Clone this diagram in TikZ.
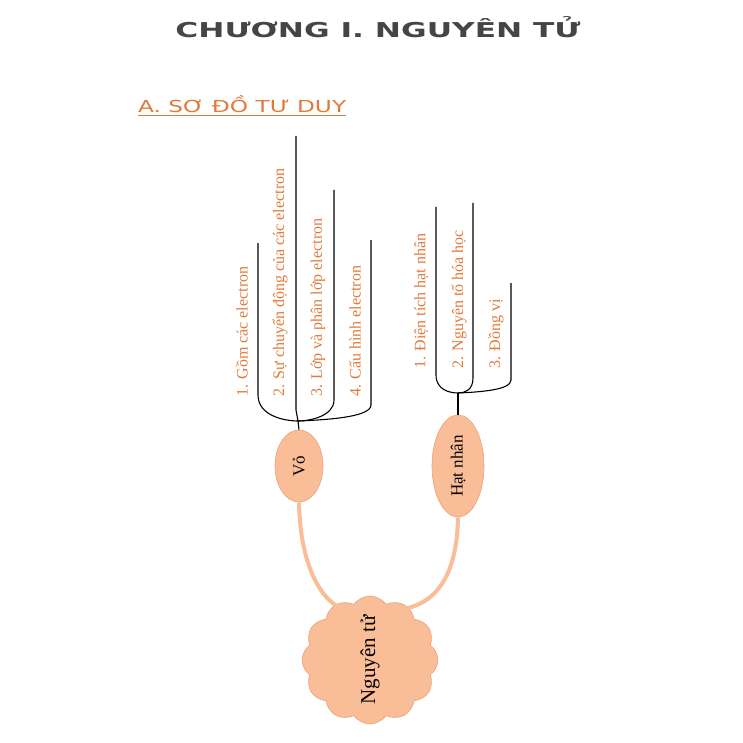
\documentclass[tikz,border=0pt]{standalone}
\usepackage{fontspec}
\setmainfont{Liberation Serif}
\newfontfamily\titlefont{DejaVu Sans}
\usetikzlibrary{shapes.symbols,shapes.geometric}
\definecolor{peach}{HTML}{F9BE98}
\definecolor{peachd}{HTML}{E9A27A}
\definecolor{txto}{HTML}{E07A3A}
\tikzset{
 br/.style={line width=1.1pt,black},
 lab/.style={rotate=90,anchor=west,text=txto,font=\fontsize{16}{16}\selectfont,inner sep=0pt},
 bub/.style={ellipse,fill=peach,draw=peachd,line width=0.6pt,inner sep=0pt},
 link/.style={line width=4pt,peach}
}
\begin{document}
\begin{tikzpicture}[x=1pt,y=-1pt]
\useasboundingbox (0,0) rectangle (743,743);
\node (title) at (378,27) {\resizebox{405pt}{21pt}{\titlefont\bfseries\color[HTML]{454545}CHƯƠNG I. NGUYÊN TỬ}};
\node[anchor=west,inner sep=0pt] (sub) at (138,106) {\resizebox{208pt}{17pt}{\titlefont\color{txto}\underline{A. SƠ ĐỒ TƯ DUY}}};
% bubbles
\node[bub,minimum width=48,minimum height=72] (vo) at (299,466) {};
\node[rotate=90,font=\fontsize{17}{17}\selectfont] at (vo) {Vỏ};
\node[bub,minimum width=52,minimum height=102] (hn) at (458,466) {};
\node[rotate=90,font=\fontsize{17}{17}\selectfont] at (hn) {Hạt nhân};
\node[cloud,cloud puffs=12,cloud puff arc=110,aspect=1,fill=peach,draw=peachd,line width=0.6pt,minimum width=136,minimum height=128] (ng) at (370,660) {};
\node[rotate=90,font=\fontsize{21}{21}\selectfont] at (ng) {Nguyên tử};
% links
\coordinate (c1) at (337,606);
\coordinate (c2) at (408,608);
\draw[link] (vo.south) .. controls (300,560) and (318,595) .. (c1);
\draw[link] (hn.south) .. controls (457,570) and (440,600) .. (c2);
% Vo branches
\coordinate (j1) at (298,421);
\coordinate (t1) at (258,243);\coordinate (t2) at (296,136);\coordinate (t3) at (334,190);\coordinate (t4) at (371,240);
\draw[br] (vo.north) -- (j1);
\draw[br] (t1) -- (258,395) .. controls (258,416) and (285,421) .. (j1);
\draw[br] (t2) -- (296,410) -- (j1);
\draw[br] (t3) -- (334,400) .. controls (334,416) and (310,421) .. (j1);
\draw[br] (t4) -- (371,405) .. controls (371,418) and (320,420) .. (j1);
\node[lab] at (242,397) {1. Gồm các electron};
\node[lab] at (280,397) {2. Sự chuyển động của các electron};
\node[lab] at (318,397) {3. Lớp và phân lớp electron};
\node[lab] at (355,397) {4. Cấu hình electron};
% Hat nhan branches
\coordinate (j2) at (458,393);
\coordinate (s1) at (436,207);\coordinate (s2) at (473,203);\coordinate (s3) at (511,283);
\draw[br] (hn.north) -- (j2);
\draw[br] (s1) -- (436,375) .. controls (436,390) and (450,393) .. (j2);
\draw[br] (s2) -- (473,378) .. controls (473,390) and (465,393) .. (j2);
\draw[br] (s3) -- (511,380) .. controls (511,390) and (480,392) .. (j2);
\node[lab] at (421,369) {1. Điện tích hạt nhân};
\node[lab] at (459,369) {2. Nguyên tố hóa học};
\node[lab] at (496,369) {3. Đồng vị};
\end{tikzpicture}
\end{document}
